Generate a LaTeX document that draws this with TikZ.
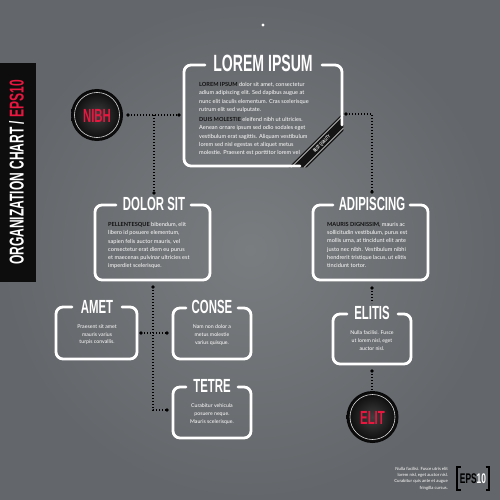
\documentclass[tikz,border=0pt]{standalone}
\usepackage{fontspec}
\setmainfont{Lato}
\newfontfamily\headfont[FakeStretch=0.6]{Liberation Sans}
\definecolor{bgin}{HTML}{7A7D80}
\definecolor{bgout}{HTML}{63666A}
\definecolor{redc}{HTML}{E8173F}
\definecolor{leadc}{HTML}{111111}
\begin{document}
\begin{tikzpicture}[x=1pt,y=-1pt,
  frame/.style={draw=white,line width=2.8pt,rounded corners=7pt,line cap=round},
  hd/.style={font=\headfont\bfseries\fontsize{19}{19}\selectfont,text=white,inner sep=0pt},
  hdbig/.style={font=\headfont\bfseries\fontsize{23.5}{23.5}\selectfont,text=white,inner sep=0pt},
  hdred/.style={font=\headfont\bfseries\fontsize{19}{19}\selectfont,text=redc,inner sep=0pt},
  body/.style={font=\fontsize{5.6}{8.2}\selectfont,text=white,inner sep=0pt,align=left,anchor=north west},
  small/.style={font=\fontsize{5.2}{7.9}\selectfont,text=white,inner sep=0pt,align=center,anchor=north},
  tiny/.style={font=\fontsize{4.3}{6.3}\selectfont,text=white,inner sep=0pt,align=right,anchor=north east},
  conn/.style={draw=black,line width=1.1pt,dash pattern=on 1.1pt off 1.9pt},
  cdot/.style={fill=black},
  badge/.style={inner color=black!75,outer color=black!97},
]
% background
\useasboundingbox (0,0) rectangle (500,500);
\shade[inner color=bgin,outer color=bgout] (0,0) rectangle (500,500);
\fill[white] (263,25) circle (1.6);

% side bar
\fill[black!95] (0,63) rectangle (36,282);
\node[font=\headfont\bfseries\fontsize{20}{20}\selectfont,text=white,inner sep=0pt,rotate=90] (title) at (16.5,172.5) {ORGANIZATION CHART / \textcolor{redc}{EPS10}};

% ---------- top box ----------
\begin{scope}
  \clip[rounded corners=8pt] (182.6,63.6) rectangle (343.4,167.4);
  \fill[black!92] (276,180) -- (356,100) -- (374,100) -- (294,180) -- cycle;
  \draw[white,line width=0.5pt] (278.5,180) -- (358.5,100);
  \draw[white,line width=0.5pt] (291.5,180) -- (371.5,100);
\end{scope}
\draw[frame] (205,65) -- (184,65) -- (184,166) -- (300,166);
\draw[frame] (342,125) -- (342,65) -- (322,65);
\node[hdbig] (hLorem) at (263,63.5) {LOREM IPSUM};
\node[font=\headfont\bfseries\fontsize{5}{5}\selectfont,text=white,inner sep=0pt,rotate=45] (ribbon) at (322,144) {BEST QUALITY};
\node[body] (tLorem1) at (199,82.3) {{\color{leadc}\bfseries LOREM IPSUM} dolor sit amet, consectetur\\adium adipiscing elit. Sed dapibus augue at\\nunc elit iaculis elementum. Cras scelerisque\\rutrum elit sed vulputate.};
\node[body] (tLorem2) at (199,117.3) {{\color{leadc}\bfseries DUIS MOLESTIE} eleifend nibh ut ultricies.\\Aenean ornare ipsum sed odio sodales eget\\vestibulum erat sagittis. Aliquam vestibulum\\lorem sed nisl egestas et aliquet metus\\molestie. Praesent est porttitor lorem vel};

% ---------- NIBH badge ----------
\shade[badge] (97,115) circle (26);
\draw[white,opacity=0.85,line width=0.6pt] (97,115) circle (22.5);
\node[hdred] (nibh) at (97,115.5) {NIBH};

% ---------- DOLOR SIT ----------
\draw[frame] (116,205) -- (95,205) -- (95,280) -- (210,280) -- (210,205) -- (191,205);
\node[hd] (hDolor) at (154,204) {DOLOR SIT};
\node[body] (tDolor) at (108,222.3) {{\color{leadc}\bfseries PELLENTESQUE} bibendum, elit\\libero id posuere elementum,\\sapien felis auctor mauris, vel\\consectetur erat diem eu purus\\et maecenas pulvinar ultricies est\\imperdiet scelerisque.};

% ---------- ADIPISCING ----------
\draw[frame] (333,205) -- (313,205) -- (313,280) -- (428,280) -- (428,205) -- (410,205);
\node[hd] (hAdip) at (372,204) {ADIPISCING};
\node[body] (tAdip) at (327,222.3) {{\color{leadc}\bfseries MAURIS DIGNISSIM,} mauris ac\\sollicitudin vestibulum, purus est\\mollis urna, at tincidunt elit ante\\justo nec nibh. Vestibulum nibhi\\hendrerit tristique lacus, ut elitis\\tincidunt tortor.};

% ---------- AMET ----------
\draw[frame] (72,307) -- (56,307) -- (56,359) -- (137,359) -- (137,307) -- (122,307);
\node[hd] (hAmet) at (97,307) {AMET};
\node[small] (tAmet) at (97,324.2) {Praesent sit amet\\mauris varius\\turpis convallis.};

% ---------- CONSE ----------
\draw[frame] (186,308) -- (173,308) -- (173,359) -- (251,359) -- (251,308) -- (238,308);
\node[hd] (hConse) at (212,306.5) {CONSE};
\node[small] (tConse) at (212,324.2) {Nam non dolor a\\metus molestie\\varius quisque.};

% ---------- TETRE ----------
\draw[frame] (186,387) -- (173,387) -- (173,438) -- (251,438) -- (251,387) -- (238,387);
\node[hd] (hTetre) at (212,385.5) {TETRE};
\node[small] (tTetre) at (212,403.2) {Curabitur vehicula\\posuere neque.\\Mauris scelerisque.};

% ---------- ELITIS ----------
\draw[frame] (347,314) -- (333,314) -- (333,364) -- (411,364) -- (411,314) -- (398,314);
\node[hd] (hElitis) at (372,313) {ELITIS};
\node[small] (tElitis) at (372,330.5) {Nulla facilisi. Fusce\\ut lorem nisl, eget\\auctor nisl.};

% ---------- ELIT badge ----------
\shade[badge] (372.5,417) circle (26);
\draw[white,opacity=0.85,line width=0.6pt] (372.5,417) circle (22.5);
\node[hdred] (elit) at (372.5,417.5) {ELIT};

% ---------- connectors ----------
\coordinate (nibhR) at (128,115);
\coordinate (lorL) at (179,115);
\coordinate (tee) at (154,115);
\coordinate (dolT) at (154,193);
\coordinate (lorR) at (346,114);
\coordinate (adipT) at (372,192);
\coordinate (dolB) at (153,287);
\coordinate (tetL) at (167,410);
\coordinate (ametR) at (141,333);
\coordinate (conL) at (167,333);
\coordinate (adipB) at (372,288);
\coordinate (eliT) at (372,303);
\coordinate (eliB) at (372,371);
\coordinate (elitT) at (372,390);

\draw[conn] (nibhR) -- (lorL);
\draw[conn] (tee) -- (dolT);
\draw[conn] (lorR) -| (adipT);
\draw[conn] (dolB) |- (tetL);
\draw[conn] (ametR) -- (conL);
\draw[conn] (adipB) -- (eliT);
\draw[conn] (eliB) -- (elitT);
\foreach \p in {nibhR,lorL,dolT,lorR,adipT,dolB,tetL,ametR,conL,adipB,eliB}
  \fill[cdot] (\p) circle (1.8);

% ---------- bottom right ----------
\node[tiny] (foot) at (448,467) {Nulla facilisi. Fusce utris elit\\lorem nisl, eget auctor nisl.\\Curabitur quis ante et augue\\fringilla cursus.};
\draw[black,line width=1.3pt] (460.5,467) -- (457,467) -- (457,490) -- (460.5,490);
\draw[black,line width=1.3pt] (485.5,467) -- (489,467) -- (489,490) -- (485.5,490);
\node[font=\headfont\bfseries\fontsize{14}{14}\selectfont,inner sep=0pt] (eps) at (473,478.5) {\textcolor{black}{EPS}\textcolor{white}{10}};
\end{tikzpicture}
\end{document}
